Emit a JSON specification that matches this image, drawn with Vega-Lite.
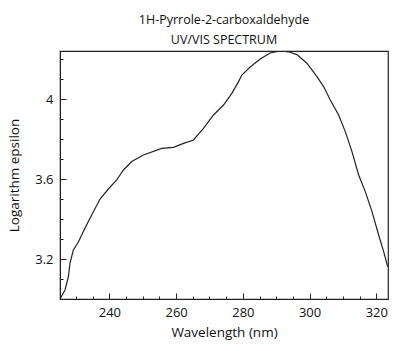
{
  "$schema": "https://vega.github.io/schema/vega-lite/v6.json",
  "autosize": "none",
  "width": 328,
  "height": 248,
  "padding": {"left": 60, "top": 51, "right": 12, "bottom": 52},
  "background": "white",
  "config": {
    "view": {"stroke": "#222222", "strokeWidth": 1.2},
    "font": "Open Sans"
  },
  "title": {
    "text": ["1H-Pyrrole-2-carboxaldehyde", "UV/VIS SPECTRUM"],
    "fontSize": 12.5,
    "fontWeight": "normal",
    "font": "Open Sans",
    "lineHeight": 20,
    "offset": 5,
    "color": "#111111",
    "anchor": "middle",
    "frame": "group"
  },
  "data": {
    "values": [
      {"wl": 225.2, "loge": 3.0},
      {"wl": 226.7, "loge": 3.045},
      {"wl": 227.7, "loge": 3.11},
      {"wl": 228.2, "loge": 3.18},
      {"wl": 229.2, "loge": 3.245},
      {"wl": 230.7, "loge": 3.285},
      {"wl": 232.7, "loge": 3.355},
      {"wl": 234.7, "loge": 3.42},
      {"wl": 237.2, "loge": 3.5},
      {"wl": 239.7, "loge": 3.55},
      {"wl": 242.2, "loge": 3.595},
      {"wl": 244.2, "loge": 3.645},
      {"wl": 246.7, "loge": 3.687},
      {"wl": 250.2, "loge": 3.72},
      {"wl": 255.7, "loge": 3.753},
      {"wl": 259.2, "loge": 3.758},
      {"wl": 262.2, "loge": 3.778},
      {"wl": 265.2, "loge": 3.795},
      {"wl": 268.2, "loge": 3.853},
      {"wl": 271.2, "loge": 3.92},
      {"wl": 274.2, "loge": 3.97},
      {"wl": 276.7, "loge": 4.028},
      {"wl": 278.7, "loge": 4.087},
      {"wl": 279.7, "loge": 4.12},
      {"wl": 282.2, "loge": 4.16},
      {"wl": 285.2, "loge": 4.2},
      {"wl": 288.2, "loge": 4.23},
      {"wl": 291.2, "loge": 4.24},
      {"wl": 293.7, "loge": 4.236},
      {"wl": 296.2, "loge": 4.222},
      {"wl": 299.2, "loge": 4.179},
      {"wl": 302.2, "loge": 4.112},
      {"wl": 304.2, "loge": 4.062},
      {"wl": 306.2, "loge": 3.995},
      {"wl": 308.7, "loge": 3.92},
      {"wl": 310.7, "loge": 3.837},
      {"wl": 312.7, "loge": 3.737},
      {"wl": 314.7, "loge": 3.62},
      {"wl": 316.7, "loge": 3.537},
      {"wl": 318.7, "loge": 3.437},
      {"wl": 320.7, "loge": 3.32},
      {"wl": 322.2, "loge": 3.237},
      {"wl": 323.4, "loge": 3.162}
    ]
  },
  "mark": {"type": "line", "color": "#222222", "strokeWidth": 1.2, "clip": true},
  "encoding": {
    "x": {
      "field": "wl",
      "type": "quantitative",
      "scale": {"domain": [225.2, 323.5], "nice": false, "zero": false},
      "axis": {
        "title": "Wavelength (nm)",
        "titleFontSize": 13.5,
        "titleFontWeight": "normal",
        "titleColor": "#111111",
        "titlePadding": 6,
        "values": [230, 235, 240, 245, 250, 255, 260, 265, 270, 275, 280, 285, 290, 295, 300, 305, 310, 315, 320],
        "labelExpr": "datum.value % 20 === 0 ? datum.label : ''",
        "labelFontSize": 13,
        "labelColor": "#111111",
        "labelPadding": 13,
        "tickSize": {"condition": {"test": "datum.value % 20 === 0", "value": -6}, "value": -3},
        "tickColor": "#222222",
        "domainColor": "#222222",
        "grid": false
      }
    },
    "y": {
      "field": "loge",
      "type": "quantitative",
      "scale": {"domain": [3.0, 4.24], "nice": false, "zero": false},
      "axis": {
        "title": "Logarithm epsilon",
        "titleFontSize": 13.5,
        "titleFontWeight": "normal",
        "titleColor": "#111111",
        "titlePadding": 13,
        "values": [3.1, 3.2, 3.3, 3.4, 3.5, 3.6, 3.7, 3.8, 3.9, 4, 4.1, 4.2],
        "labelExpr": "datum.value == 4 ? '4' : datum.value == 3.6 ? '3.6' : datum.value == 3.2 ? '3.2' : ''",
        "labelFontSize": 13,
        "labelColor": "#111111",
        "labelPadding": 13,
        "tickSize": {"condition": {"test": "datum.value == 4 || datum.value == 3.6 || datum.value == 3.2", "value": -6}, "value": -3},
        "tickColor": "#222222",
        "domainColor": "#222222",
        "grid": false
      }
    }
  }
}
